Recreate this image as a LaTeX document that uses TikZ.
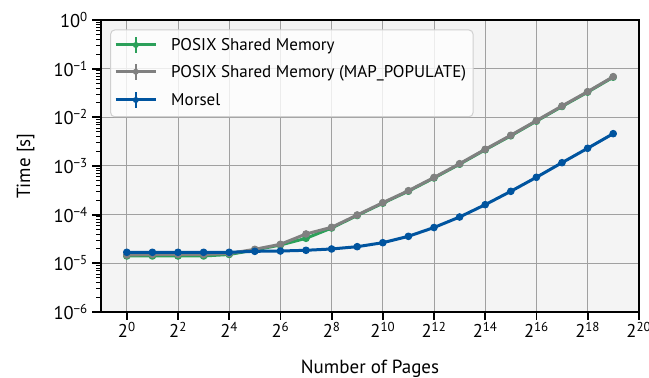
\documentclass[tikz,border=0pt]{standalone}
\usepackage{fontspec}
\setmainfont{PT Sans}
\definecolor{plotbg}{HTML}{F4F4F4}
\definecolor{gridc}{HTML}{A0A0A0}
\definecolor{legendedge}{HTML}{D0D0D0}
\definecolor{posixgreen}{HTML}{2CA05A}
\definecolor{posixgrey}{HTML}{808080}
\definecolor{morselblue}{HTML}{00549F}
\newcommand{\sups}[1]{\textsuperscript{#1}}
\newcommand{\mns}{\char"2212\relax}
\begin{document}
\begin{tikzpicture}[x=1pt,y=1pt,
  every node/.style={font=\fontsize{18.5}{22}\selectfont, inner sep=0pt},
  axistitle/.style={font=\fontsize{19}{22}\selectfont},
  legendtext/.style={font=\fontsize{17}{20}\selectfont, anchor=base west},
  gridline/.style={gridc, line width=1pt},
  axisframe/.style={black, line width=2pt},
  majortick/.style={black, line width=1.8pt},
  minortick/.style={black, line width=1pt},
  series/.style={line width=3pt, line join=round, mark=*, mark size=3.3pt, mark options={line width=1pt}},
  handle/.style={line width=3pt},
  errbar/.style={line width=2pt},
  legendbox/.style={draw=legendedge, fill=white, fill opacity=0.8, line width=1pt, rounded corners=4pt}]
\useasboundingbox (0,0) rectangle (649,378);

% axes area (pixel frame: left 101, right 639, bottom 66, top 358)
\fill[plotbg] (101,66) rectangle (639,358);

% grid: every decade, every second power of two
\foreach \k in {1,...,5}
  \draw[gridline] (101,{66+48.667*\k}) -- (639,{66+48.667*\k});
\foreach \n in {0,2,...,18}
  \draw[gridline] ({126.8+25.6*\n},66) -- ({126.8+25.6*\n},358);

% data: x = log2(pages), y = log10(time)
\begin{scope}[shift={(126.8,358)}, x=25.6pt, y=48.667pt]
  \draw[series, posixgreen] plot coordinates {
    (0,-4.849) (1,-4.849) (2,-4.849) (3,-4.849) (4,-4.818)
    (5,-4.726) (6,-4.623) (7,-4.486) (8,-4.274) (9,-4.017)
    (10,-3.764) (11,-3.518) (12,-3.246) (13,-2.963) (14,-2.667)
    (15,-2.379) (16,-2.079) (17,-1.777) (18,-1.483) (19,-1.175)};
  \draw[series, posixgrey] plot coordinates {
    (0,-4.829) (1,-4.818) (2,-4.818) (3,-4.818) (4,-4.798)
    (5,-4.712) (6,-4.609) (7,-4.397) (8,-4.260) (9,-4.007)
    (10,-3.754) (11,-3.508) (12,-3.236) (13,-2.953) (14,-2.657)
    (15,-2.369) (16,-2.069) (17,-1.767) (18,-1.473) (19,-1.165)};
  \draw[series, morselblue] plot coordinates {
    (0,-4.773) (1,-4.773) (2,-4.773) (3,-4.773) (4,-4.773)
    (5,-4.753) (6,-4.747) (7,-4.732) (8,-4.705) (9,-4.658)
    (10,-4.576) (11,-4.445) (12,-4.264) (13,-4.048) (14,-3.795)
    (15,-3.520) (16,-3.232) (17,-2.932) (18,-2.636) (19,-2.336)};
\end{scope}

% frame
\draw[axisframe] (101,66) rectangle (639,358);

% y ticks and labels
\foreach \k in {0,...,6}{
  \draw[majortick] (101,{66+48.667*\k}) -- (92,{66+48.667*\k});
}
\foreach \k in {0,...,5}
  \foreach \m in {2,...,9}
    \draw[minortick] (101,{66+48.667*(\k+log10(\m))}) -- (96,{66+48.667*(\k+log10(\m))});
\node[anchor=east] (y0) at (88,358) {10\sups{0}};
\node[anchor=east] (y1) at (88,309.33) {10\sups{\mns 1}};
\node[anchor=east] (y2) at (88,260.67) {10\sups{\mns 2}};
\node[anchor=east] (y3) at (88,212) {10\sups{\mns 3}};
\node[anchor=east] (y4) at (88,163.33) {10\sups{\mns 4}};
\node[anchor=east] (y5) at (88,114.67) {10\sups{\mns 5}};
\node[anchor=east] (y6) at (88,66) {10\sups{\mns 6}};

% x ticks and labels
\foreach \n in {0,2,...,20}{
  \draw[majortick] ({126.8+25.6*\n},66) -- ({126.8+25.6*\n},58);
  \node[anchor=north] (x\n) at ({126.8+25.6*\n},56) {2\sups{\n}};
}

% axis titles
\node[axistitle, anchor=base] (xlabel) at (370,4) {Number of Pages};
\node[axistitle, anchor=base, rotate=90] (ylabel) at (30,212) {Time [s]};

% legend
\draw[legendbox] (110.7,261.3) rectangle (473,348);
\draw[handle, posixgreen] (115.5,333) -- (156,333);
\draw[errbar, posixgreen] (135.8,325) -- (135.8,341);
\fill[posixgreen] (135.8,333) circle (3pt);
\node[legendtext] (lg1) at (171,327) {POSIX Shared Memory};
\draw[handle, posixgrey] (115.5,306.3) -- (156,306.3);
\draw[errbar, posixgrey] (135.8,298.3) -- (135.8,314.3);
\fill[posixgrey] (135.8,306.3) circle (3pt);
\node[legendtext] (lg2) at (171,300.3) {POSIX Shared Memory (MAP\_POPULATE)};
\draw[handle, morselblue] (115.5,278) -- (156,278);
\draw[errbar, morselblue] (135.8,270) -- (135.8,286);
\fill[morselblue] (135.8,278) circle (3pt);
\node[legendtext] (lg3) at (171,272) {Morsel};
\end{tikzpicture}
\end{document}
